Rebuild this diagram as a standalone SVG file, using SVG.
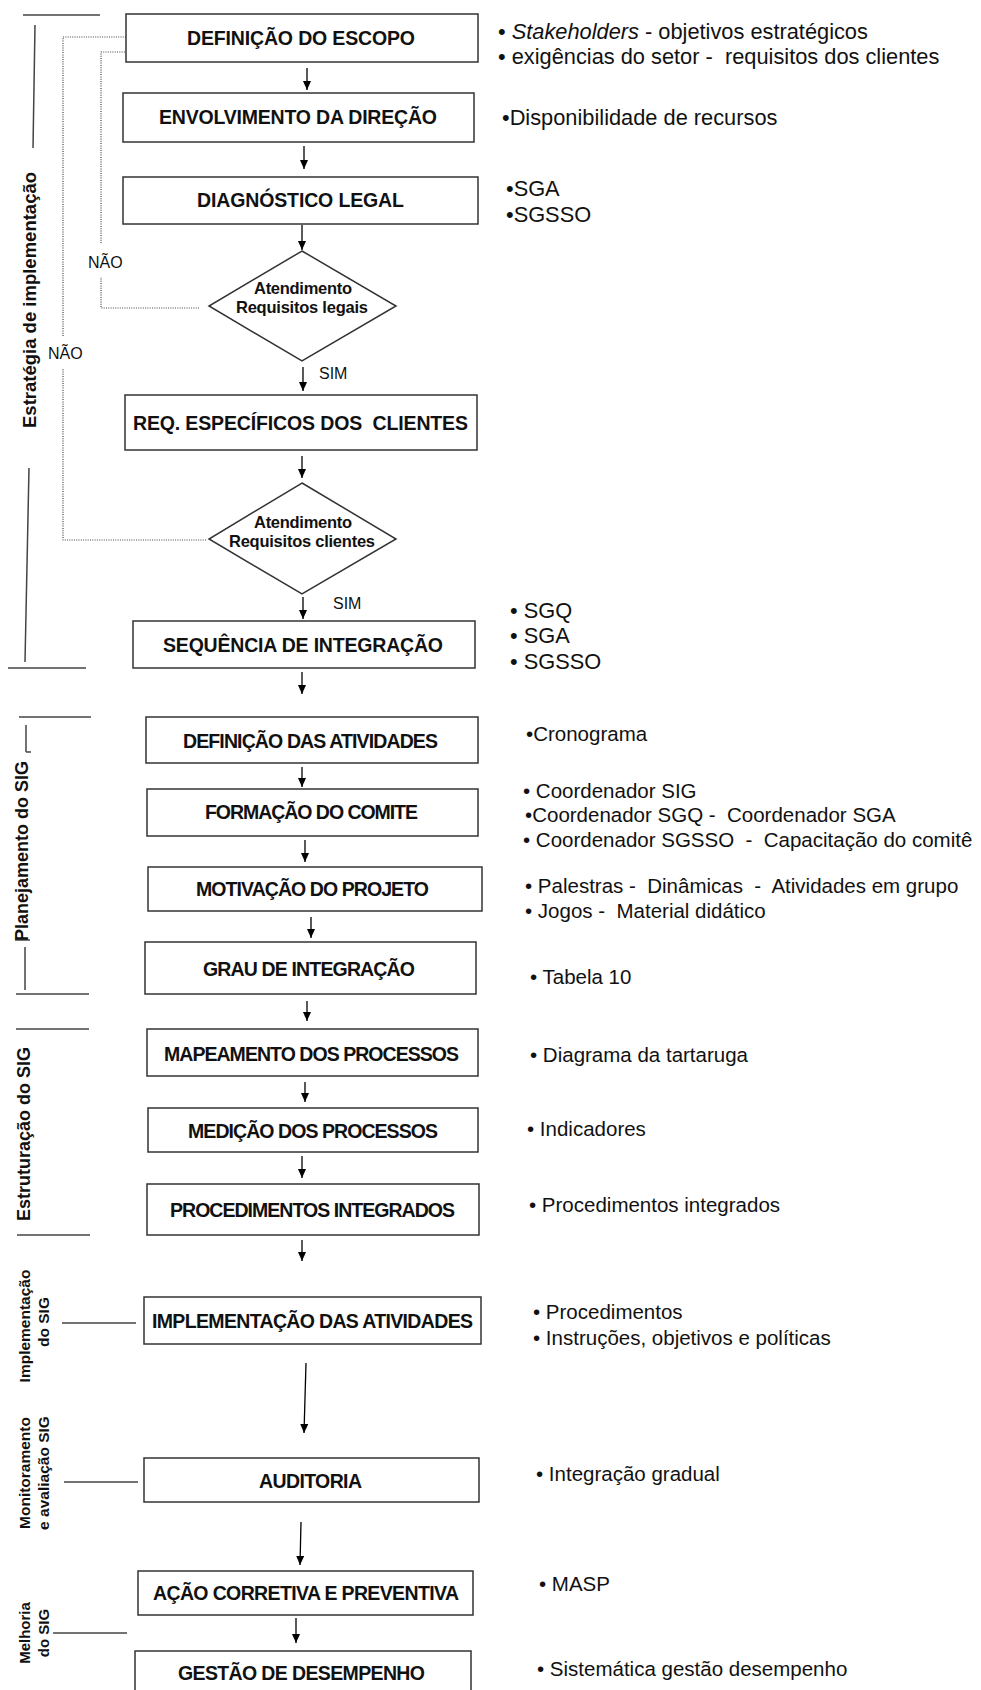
<svg xmlns="http://www.w3.org/2000/svg" width="981" height="1690" viewBox="0 0 981 1690">
  <style>
    .box { fill: #fff; stroke: #333; stroke-width: 1.5; }
    .bt { font-family: "Liberation Sans", Arial, sans-serif; font-weight: bold; font-size: 19.5px; fill: #111; text-anchor: middle; dominant-baseline: central; white-space: pre; }
    .dt { font-family: "Liberation Sans", Arial, sans-serif; font-weight: bold; font-size: 16.5px; fill: #111; text-anchor: middle; dominant-baseline: central; }
    .lbl { font-family: "Liberation Sans", Arial, sans-serif; font-size: 16px; fill: #111; dominant-baseline: central; }
    .note { font-family: "Liberation Sans", Arial, sans-serif; font-size: 21.8px; fill: #111; white-space: pre; }
    .note2 { font-family: "Liberation Sans", Arial, sans-serif; font-size: 20.5px; fill: #111; white-space: pre; }
    .side { font-family: "Liberation Sans", Arial, sans-serif; font-weight: bold; fill: #111; text-anchor: middle; dominant-baseline: central; }
    .arrow { stroke: #000; stroke-width: 1.3; fill: none; marker-end: url(#head); }
    .dot { stroke: #444; stroke-width: 1.2; stroke-dasharray: 1 1.3; fill: none; }
    .bracket { stroke: #444; stroke-width: 1.5; fill: none; }
  </style>
  <defs>
    <marker id="head" viewBox="0 0 9 8" refX="9" refY="4" markerWidth="9" markerHeight="8" markerUnits="userSpaceOnUse" orient="auto">
      <path d="M0,0 L9,4 L0,8 z" fill="#000"/>
    </marker>
  </defs>
  <rect width="981" height="1690" fill="#fff"/>

  <!-- phase brackets and vertical phase labels -->
  <g id="phases">
    <line class="bracket" x1="23" y1="15" x2="100" y2="15"/>
    <line class="bracket" x1="35" y1="25" x2="33" y2="148"/>
    <line class="bracket" x1="29" y1="468" x2="25" y2="662"/>
    <line class="bracket" x1="8" y1="668" x2="86" y2="668"/>
    <text class="side" font-size="18.5" transform="translate(29,300) rotate(-90)">Estratégia de implementação</text>

    <line class="bracket" x1="19" y1="717" x2="91" y2="717"/>
    <line class="bracket" x1="26" y1="725" x2="26" y2="752"/>
    <line class="bracket" x1="26" y1="752" x2="31" y2="752"/>
    <line class="bracket" x1="15" y1="940" x2="30" y2="940"/>
    <line class="bracket" x1="25" y1="947" x2="25" y2="990"/>
    <line class="bracket" x1="16" y1="994" x2="89" y2="994"/>
    <text class="side" font-size="18" transform="translate(22,851) rotate(-90)">Planejamento do SIG</text>

    <line class="bracket" x1="16" y1="1029" x2="89" y2="1029"/>
    <line class="bracket" x1="17" y1="1235" x2="90" y2="1235"/>
    <text class="side" font-size="18" transform="translate(24,1134) rotate(-90)">Estruturação do SIG</text>

    <line class="bracket" x1="62" y1="1323" x2="136" y2="1323"/>
    <text class="side" font-size="15.5" transform="translate(24,1326) rotate(-90)">Implementação</text>
    <text class="side" font-size="15.5" transform="translate(43,1322) rotate(-90)">do SIG</text>

    <line class="bracket" x1="64" y1="1482" x2="138" y2="1482"/>
    <text class="side" font-size="15.5" transform="translate(24,1473) rotate(-90)">Monitoramento</text>
    <text class="side" font-size="15.5" transform="translate(43,1473) rotate(-90)">e avaliação SIG</text>

    <line class="bracket" x1="53" y1="1633" x2="127" y2="1633"/>
    <text class="side" font-size="15" transform="translate(24,1633) rotate(-90)">Melhoria</text>
    <text class="side" font-size="15" transform="translate(43,1633) rotate(-90)">do SIG</text>
  </g>

  <!-- connectors -->
  <g id="connectors">
    <line class="arrow" x1="307" y1="68" x2="307" y2="90"/>
    <line class="arrow" x1="304" y1="146" x2="304" y2="169"/>
    <line class="arrow" x1="302" y1="225" x2="302" y2="250"/>
    <line class="arrow" x1="303" y1="367" x2="303" y2="391"/>
    <line class="arrow" x1="302" y1="456" x2="302" y2="478"/>
    <line class="arrow" x1="303" y1="597" x2="303" y2="619"/>
    <line class="arrow" x1="302" y1="672" x2="302" y2="694"/>
    <line class="arrow" x1="302" y1="767" x2="302" y2="787"/>
    <line class="arrow" x1="305" y1="840" x2="305" y2="862"/>
    <line class="arrow" x1="311" y1="917" x2="311" y2="938"/>
    <line class="arrow" x1="307" y1="1001" x2="307" y2="1021"/>
    <line class="arrow" x1="305" y1="1082" x2="305" y2="1102"/>
    <line class="arrow" x1="302" y1="1156" x2="302" y2="1178"/>
    <line class="arrow" x1="302" y1="1240" x2="302" y2="1261"/>
    <line class="arrow" x1="306" y1="1363" x2="304" y2="1433"/>
    <line class="arrow" x1="301" y1="1522" x2="300" y2="1565"/>
    <line class="arrow" x1="296" y1="1618" x2="296" y2="1643"/>

    <!-- NÃO loops back to the scope definition -->
    <path class="dot" d="M199,308 H101 V277"/>
    <path class="dot" d="M101,243 V52 H156"/>
    <path d="M153,48 L162,52 L153,56 z" fill="#000"/>
    <path class="dot" d="M206,540 H63 V368"/>
    <path class="dot" d="M63,336 V37 H146"/>
    <path d="M143,33 L152,37 L143,41 z" fill="#000"/>

    <text class="lbl" x="88" y="262">NÃO</text>
    <text class="lbl" x="48" y="353">NÃO</text>
    <text class="lbl" x="319" y="373">SIM</text>
    <text class="lbl" x="333" y="603">SIM</text>
  </g>

  <!-- process steps -->
  <g id="n-escopo">
    <rect class="box" x="126" y="14" width="352" height="48"/>
    <text class="bt" x="301" y="38" textLength="228" lengthAdjust="spacing">DEFINIÇÃO DO ESCOPO</text>
  </g>
  <g id="n-direcao">
    <rect class="box" x="123" y="93" width="351" height="49"/>
    <text class="bt" x="298" y="117" textLength="278" lengthAdjust="spacing">ENVOLVIMENTO DA DIREÇÃO</text>
  </g>
  <g id="n-diagnostico">
    <rect class="box" x="123" y="177" width="355" height="47"/>
    <text class="bt" x="300.5" y="200" textLength="207" lengthAdjust="spacing">DIAGNÓSTICO LEGAL</text>
  </g>
  <g id="n-dec-legais">
    <polygon class="box" points="302,251 396,306 302,361 209,306"/>
    <text class="dt" x="303" y="288" textLength="98" lengthAdjust="spacing">Atendimento</text>
    <text class="dt" x="302" y="307" textLength="132" lengthAdjust="spacing">Requisitos legais</text>
  </g>
  <g id="n-req-clientes">
    <rect class="box" x="125" y="395" width="352" height="55"/>
    <text class="bt" x="300.5" y="423" textLength="335" lengthAdjust="spacing">REQ. ESPECÍFICOS DOS  CLIENTES</text>
  </g>
  <g id="n-dec-clientes">
    <polygon class="box" points="302,483 396,539 302,594 209,539"/>
    <text class="dt" x="303" y="522" textLength="98" lengthAdjust="spacing">Atendimento</text>
    <text class="dt" x="302" y="541" textLength="146" lengthAdjust="spacing">Requisitos clientes</text>
  </g>
  <g id="n-sequencia">
    <rect class="box" x="133" y="621" width="342" height="47"/>
    <text class="bt" x="303" y="645" textLength="280" lengthAdjust="spacing">SEQUÊNCIA DE INTEGRAÇÃO</text>
  </g>
  <g id="n-atividades">
    <rect class="box" x="146" y="717" width="332" height="46"/>
    <text class="bt" x="310.5" y="741" textLength="255" lengthAdjust="spacing">DEFINIÇÃO DAS ATIVIDADES</text>
  </g>
  <g id="n-comite">
    <rect class="box" x="147" y="789" width="331" height="47"/>
    <text class="bt" x="311.5" y="812" textLength="213" lengthAdjust="spacing">FORMAÇÃO DO COMITE</text>
  </g>
  <g id="n-motivacao">
    <rect class="box" x="148" y="867" width="334" height="44"/>
    <text class="bt" x="312.5" y="889" textLength="233" lengthAdjust="spacing">MOTIVAÇÃO DO PROJETO</text>
  </g>
  <g id="n-grau">
    <rect class="box" x="145" y="942" width="331" height="52"/>
    <text class="bt" x="309" y="969" textLength="212" lengthAdjust="spacing">GRAU DE INTEGRAÇÃO</text>
  </g>
  <g id="n-mapeamento">
    <rect class="box" x="147" y="1029" width="331" height="47"/>
    <text class="bt" x="311.5" y="1054" textLength="295" lengthAdjust="spacing">MAPEAMENTO DOS PROCESSOS</text>
  </g>
  <g id="n-medicao">
    <rect class="box" x="148" y="1108" width="330" height="44"/>
    <text class="bt" x="313" y="1131" textLength="250" lengthAdjust="spacing">MEDIÇÃO DOS PROCESSOS</text>
  </g>
  <g id="n-procedimentos">
    <rect class="box" x="147" y="1184" width="332" height="51"/>
    <text class="bt" x="312.5" y="1210" textLength="285" lengthAdjust="spacing">PROCEDIMENTOS INTEGRADOS</text>
  </g>
  <g id="n-implementacao">
    <rect class="box" x="144" y="1297" width="337" height="47"/>
    <text class="bt" x="312.5" y="1321" textLength="321" lengthAdjust="spacing">IMPLEMENTAÇÃO DAS ATIVIDADES</text>
  </g>
  <g id="n-auditoria">
    <rect class="box" x="144" y="1458" width="335" height="44"/>
    <text class="bt" x="310.5" y="1481" textLength="103" lengthAdjust="spacing">AUDITORIA</text>
  </g>
  <g id="n-acao">
    <rect class="box" x="138" y="1571" width="335" height="44"/>
    <text class="bt" x="306" y="1593" textLength="306" lengthAdjust="spacing">AÇÃO CORRETIVA E PREVENTIVA</text>
  </g>
  <g id="n-gestao">
    <rect class="box" x="135" y="1651" width="336" height="50"/>
    <text class="bt" x="301.5" y="1673" textLength="247" lengthAdjust="spacing">GESTÃO DE DESEMPENHO</text>
  </g>

  <!-- notes beside each step -->
  <g id="notes">
    <text class="note" x="498" y="39">• <tspan font-style="italic">Stakeholders</tspan> - objetivos estratégicos</text>
    <text class="note" x="498" y="64">• exigências do setor -  requisitos dos clientes</text>
    <text class="note" x="502" y="125">•Disponibilidade de recursos</text>
    <text class="note" x="506" y="196">•SGA</text>
    <text class="note" x="506" y="222">•SGSSO</text>
    <text class="note" x="510" y="618">• SGQ</text>
    <text class="note" x="510" y="643">• SGA</text>
    <text class="note" x="510" y="669">• SGSSO</text>
    <text class="note2" x="526" y="741">•Cronograma</text>
    <text class="note2" x="523" y="798">• Coordenador SIG</text>
    <text class="note2" x="525" y="822">•Coordenador SGQ -  Coordenador SGA</text>
    <text class="note2" x="523" y="847">• Coordenador SGSSO  -  Capacitação do comitê</text>
    <text class="note2" x="525" y="893">• Palestras -  Dinâmicas  -  Atividades em grupo</text>
    <text class="note2" x="525" y="918">• Jogos -  Material didático</text>
    <text class="note2" x="530" y="984">• Tabela 10</text>
    <text class="note2" x="530" y="1062">• Diagrama da tartaruga</text>
    <text class="note2" x="527" y="1136">• Indicadores</text>
    <text class="note2" x="529" y="1212">• Procedimentos integrados</text>
    <text class="note2" x="533" y="1319">• Procedimentos</text>
    <text class="note2" x="533" y="1345">• Instruções, objetivos e políticas</text>
    <text class="note2" x="536" y="1481">• Integração gradual</text>
    <text class="note2" x="539" y="1591">• MASP</text>
    <text class="note2" x="537" y="1676">• Sistemática gestão desempenho</text>
  </g>
</svg>
